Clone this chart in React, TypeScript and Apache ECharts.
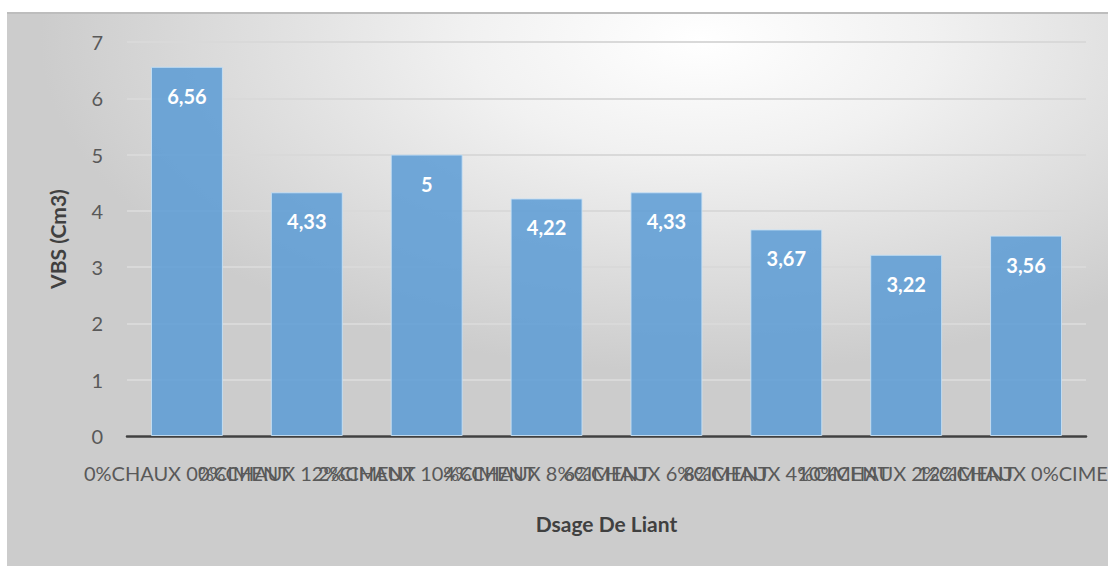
import React, { useEffect, useRef } from "react";
import * as echarts from "echarts";

const categories = [
  "0%CHAUX 0%CIMENT",
  "0%CHAUX 12%CIMENT",
  "2%CHAUX 10%CIMENT",
  "4%CHAUX 8%CIMENT",
  "6%CHAUX 6%CIMENT",
  "8%CHAUX 4%CIMENT",
  "10%CHAUX 2%CIMENT",
  "12%CHAUX 0%CIMENT",
];
const vbsValues = [6.56, 4.33, 5, 4.22, 4.33, 3.67, 3.22, 3.56];
const yAxisTitle = "VBS (Cm3)";
const xAxisTitle = "Dsage De Liant";

const FONT = "Lato, 'Open Sans', sans-serif";

export default function App() {
  const ref = useRef<HTMLDivElement>(null);
  useEffect(() => {
    if (!ref.current) return;
    const chart = echarts.init(ref.current, null, { renderer: "svg" });
    const W = 1101;
    const H = 554;
    chart.setOption({
      animation: false,
      textStyle: { fontFamily: FONT },
      graphic: [
        {
          type: "rect",
          z: -100,
          silent: true,
          shape: { x: 0, y: 0, width: W, height: H },
          style: {
            fill: new echarts.graphic.RadialGradient(0.63, 0.05, 0.6, [
              { offset: 0, color: "#ffffff" },
              { offset: 0.35, color: "#f1f1f1" },
              { offset: 1, color: "#cccccc" },
            ]),
          },
        },
        {
          type: "rect",
          z: -99,
          silent: true,
          shape: { x: 0, y: 0, width: W, height: 2 },
          style: { fill: "#bdbdbd" },
        },
      ],
      grid: {
        left: 120,
        right: 22,
        top: 30,
        bottom: 130,
        containLabel: false,
        outerBoundsMode: "none",
      },
      xAxis: {
        type: "category",
        data: categories,
        axisLine: { show: true, lineStyle: { color: "#404040", width: 2.5 } },
        axisTick: { show: false },
        axisLabel: {
          interval: 0,
          hideOverlap: false,
          color: "#595959",
          fontSize: 20,
          fontFamily: FONT,
          margin: 27,
        },
        name: xAxisTitle,
        nameLocation: "middle",
        nameGap: 77,
        nameTextStyle: { color: "#404040", fontSize: 21, fontWeight: "bold", fontFamily: FONT },
      },
      yAxis: {
        type: "value",
        min: 0,
        max: 7,
        interval: 1,
        axisLine: { show: false },
        axisTick: { show: false },
        splitLine: { lineStyle: { color: "#d9d9d9", width: 2 } },
        axisLabel: { color: "#595959", fontSize: 20, fontFamily: FONT, margin: 24 },
        name: yAxisTitle,
        nameLocation: "middle",
        nameGap: 59,
        nameRotate: 90,
        nameTextStyle: { color: "#404040", fontSize: 21, fontWeight: "bold", fontFamily: FONT },
      },
      series: [
        {
          type: "bar",
          data: vbsValues,
          barWidth: "60%",
          itemStyle: {
            color: "rgba(91,155,213,0.85)",
            borderColor: "rgba(200,225,245,0.9)",
            borderWidth: 1,
          },
          label: {
            show: true,
            position: "insideTop",
            distance: 19,
            color: "#ffffff",
            fontSize: 20,
            fontWeight: "bold",
            fontFamily: FONT,
            formatter: (p: any) => String(p.value).replace(".", ","),
          },
        },
      ],
    });
    return () => chart.dispose();
  }, []);
  return (
    <div style={{ position: "fixed", left: 0, top: 0, width: 1108, height: 566, background: "#ffffff" }}>
      <div
        ref={ref}
        style={{ position: "absolute", left: 7, top: 12, width: 1101, height: 554 }}
      />
    </div>
  );
}
